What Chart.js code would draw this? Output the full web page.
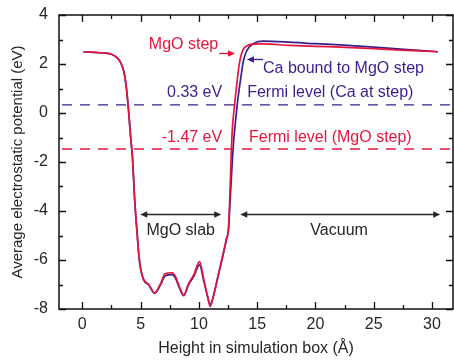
<!DOCTYPE html>
<html>
<head>
<meta charset="utf-8">
<script src="https://cdn.jsdelivr.net/npm/chart.js@4/dist/chart.umd.min.js"></script>
<style>
  html, body { margin: 0; padding: 0; background: #ffffff; }
  #wrap { width: 454px; height: 362px; }
</style>
</head>
<body>
<div id="wrap"><canvas id="c" width="454" height="362"></canvas></div>
<script>
// Planar-averaged electrostatic potential along the simulation box
const heights = [0.1, 1.5, 2.5, 3.0, 3.3, 3.55, 3.75, 3.95, 4.15, 4.3, 4.5, 4.7, 4.85, 5.0, 5.25, 5.7, 6.2, 6.7,
  7.1, 7.7, 8.0, 8.35, 8.7, 9.1, 9.55, 10.06, 10.4, 10.75, 10.97, 11.3, 11.7, 11.97, 12.35, 12.55, 12.7, 12.85,
  13.0, 13.15, 13.3, 13.45, 13.6, 13.8, 14.0, 14.3, 14.7, 15.5, 17.8, 20.0, 22.1, 25.0, 27.3, 30.5];

// Ca bound to the MgO step
const potentialCa = [2.5, 2.46, 2.4, 2.25, 2.05, 1.72, 1.15, 0.2, -1.0, -1.8, -3.6, -4.9, -5.8, -6.35, -6.8, -7.02,
  -7.36, -7.02, -6.65, -6.6, -6.75, -7.16, -7.46, -7.02, -6.68, -6.2, -6.82, -7.5, -7.82, -7.36, -6.54, -6.02,
  -5.2, -4.72, -3.4, -2.1, -1.05, -0.3, 0.38, 0.95, 1.45, 2.08, 2.42, 2.68, 2.84, 2.93, 2.89, 2.83, 2.78, 2.69, 2.61, 2.5];

// Bare MgO step
const potentialStep = [2.5, 2.46, 2.4, 2.25, 2.05, 1.72, 1.15, 0.2, -1.0, -1.8, -3.6, -4.9, -5.8, -6.35, -6.78, -7.0,
  -7.34, -6.98, -6.56, -6.52, -6.68, -7.12, -7.43, -6.98, -6.62, -6.07, -6.75, -7.5, -7.9, -7.38, -6.54, -5.98,
  -5.15, -4.62, -2.75, -0.8, 0.05, 0.75, 1.38, 1.95, 2.32, 2.6, 2.7, 2.78, 2.81, 2.82, 2.76, 2.72, 2.69, 2.63, 2.57, 2.5];

// Fermi levels (eV)
const fermiCa = 0.33;
const fermiStep = -1.47;

// Axis ranges and tick labels
const xRange = [-2, 31.8];
const yRange = [-8, 4];
const xTickValues = [0, 5, 10, 15, 20, 25, 30];
const yTickValues = [-8, -6, -4, -2, 0, 2, 4];

const RED = '#e4163d';
const PURPLE = '#3b1f8e';
const INK = '#262626';
const FONT = '"Liberation Sans", Arial, Helvetica, sans-serif';

const toPoints = (xs, ys) => xs.map((x, i) => ({ x, y: ys[i] }));
const levelLine = v => [{ x: xRange[0], y: v }, { x: xRange[1], y: v }];

// Text labels and arrows, anchored in data space
const labels = [
  { text: 'MgO step', x: 11.66, y: 2.78, align: 'right', color: RED },
  { text: 'Ca bound to MgO step', x: 15.5, y: 1.82, align: 'left', color: PURPLE },
  { text: '0.33 eV', x: 12.0, y: 0.82, align: 'right', color: PURPLE },
  { text: 'Fermi level (Ca at step)', x: 14.14, y: 0.82, align: 'left', color: PURPLE },
  { text: '-1.47 eV', x: 12.0, y: -1.02, align: 'right', color: RED },
  { text: 'Fermi level (MgO step)', x: 14.3, y: -1.02, align: 'left', color: RED },
  { text: 'MgO slab', x: 8.44, y: -4.82, align: 'center', color: INK },
  { text: 'Vacuum', x: 22.03, y: -4.82, align: 'center', color: INK }
];
const arrows = [
  { from: [11.74, 2.45], to: [13.1, 2.45], heads: 'end', color: RED },
  { from: [15.5, 2.2], to: [14.12, 2.2], heads: 'end', color: PURPLE },
  { from: [4.97, -4.12], to: [11.92, -4.12], heads: 'both', color: INK },
  { from: [13.55, -4.12], to: [30.7, -4.12], heads: 'both', color: INK }
];

function arrowHead(ctx, x, y, dir) {
  ctx.beginPath();
  ctx.moveTo(x, y);
  ctx.lineTo(x - dir * 7, y - 3.2);
  ctx.lineTo(x - dir * 7, y + 3.2);
  ctx.closePath();
  ctx.fill();
}

const annotations = {
  id: 'annotations',
  afterDatasetsDraw(chart) {
    const { ctx, scales: { x, y } } = chart;
    ctx.save();
    ctx.font = '16px ' + FONT;
    ctx.textBaseline = 'middle';
    labels.forEach(l => {
      ctx.fillStyle = l.color;
      ctx.textAlign = l.align;
      ctx.fillText(l.text, x.getPixelForValue(l.x), y.getPixelForValue(l.y));
    });
    arrows.forEach(a => {
      const x1 = x.getPixelForValue(a.from[0]), y1 = Math.round(y.getPixelForValue(a.from[1])) + 0.5;
      const x2 = x.getPixelForValue(a.to[0]);
      const dir = Math.sign(x2 - x1);
      ctx.strokeStyle = a.color;
      ctx.fillStyle = a.color;
      ctx.lineWidth = 1.3;
      ctx.beginPath();
      ctx.moveTo(x1 + (a.heads === 'both' ? dir * 5 : 0), y1);
      ctx.lineTo(x2 - dir * 5, y1);
      ctx.stroke();
      arrowHead(ctx, x2, y1, dir);
      if (a.heads === 'both') arrowHead(ctx, x1, y1, -dir);
    });
    ctx.restore();
  }
};

// Closed frame with inward major and minor ticks on all four sides
const axisFrame = {
  id: 'axisFrame',
  afterDraw(chart) {
    const { ctx, chartArea: a, scales: { x, y } } = chart;
    const mids = v => v.slice(0, -1).map((t, i) => (t + v[i + 1]) / 2);
    const xMinor = mids(xTickValues).concat([xTickValues[xTickValues.length - 1] + 2.5]).filter(v => v < xRange[1]);
    const yMinor = mids(yTickValues);
    ctx.save();
    ctx.strokeStyle = '#111111';
    ctx.lineWidth = 1.5;
    ctx.strokeRect(a.left, a.top, a.right - a.left, a.bottom - a.top);
    ctx.lineWidth = 1.3;
    ctx.beginPath();
    const xt = (v, len) => {
      const px = Math.round(x.getPixelForValue(v)) + 0.5;
      ctx.moveTo(px, a.bottom); ctx.lineTo(px, a.bottom - len);
      ctx.moveTo(px, a.top); ctx.lineTo(px, a.top + len);
    };
    const yt = (v, len) => {
      const py = Math.round(y.getPixelForValue(v)) + 0.5;
      ctx.moveTo(a.left, py); ctx.lineTo(a.left + len, py);
      ctx.moveTo(a.right, py); ctx.lineTo(a.right - len, py);
    };
    xTickValues.forEach(v => xt(v, 7));
    xMinor.forEach(v => xt(v, 4));
    yTickValues.forEach(v => yt(v, 7));
    yMinor.forEach(v => yt(v, 4));
    ctx.stroke();
    ctx.restore();
  }
};

new Chart(document.getElementById('c'), {
  type: 'line',
  data: {
    datasets: [
      { data: levelLine(fermiStep), borderColor: RED, borderWidth: 1.3, borderDash: [10, 8], borderDashOffset: 15, pointRadius: 0 },
      { data: levelLine(fermiCa), borderColor: PURPLE, borderWidth: 1.3, borderDash: [10, 8], borderDashOffset: 15, pointRadius: 0 },
      { data: toPoints(heights, potentialStep), borderColor: RED, borderWidth: 1.7, pointRadius: 0, cubicInterpolationMode: 'monotone' },
      { data: toPoints(heights, potentialCa), borderColor: PURPLE, borderWidth: 1.7, pointRadius: 0, cubicInterpolationMode: 'monotone' }
    ]
  },
  options: {
    responsive: false,
    animation: false,
    devicePixelRatio: 1,
    layout: { padding: { top: 15, right: 1, left: 0, bottom: 0 } },
    plugins: { legend: { display: false }, tooltip: { enabled: false } },
    scales: {
      x: {
        type: 'linear',
        min: xRange[0], max: xRange[1],
        grid: { display: false, drawTicks: false },
        border: { display: false },
        afterBuildTicks: s => { s.ticks = xTickValues.map(v => ({ value: v })); },
        afterFit: s => { s.height = 53; s.paddingLeft = 0; s.paddingRight = 0; },
        ticks: { color: INK, font: { family: FONT, size: 16 }, padding: 6, maxRotation: 0, autoSkip: false },
        title: { display: true, text: 'Height in simulation box (Å)', color: INK, font: { family: FONT, size: 16 }, padding: { top: 0, bottom: 4 } }
      },
      y: {
        type: 'linear',
        min: yRange[0], max: yRange[1],
        grid: { display: false, drawTicks: false },
        border: { display: false },
        afterBuildTicks: s => { s.ticks = yTickValues.map(v => ({ value: v })); },
        afterFit: s => { s.width = 59; s.paddingTop = 0; s.paddingBottom = 0; },
        ticks: { color: INK, font: { family: FONT, size: 16 }, padding: 11, autoSkip: false },
        title: { display: true, text: 'Average electrostatic potential (eV)', color: INK, font: { family: FONT, size: 15 }, padding: { top: 9, bottom: 0 } }
      }
    }
  },
  plugins: [annotations, axisFrame]
});
</script>
</body>
</html>
